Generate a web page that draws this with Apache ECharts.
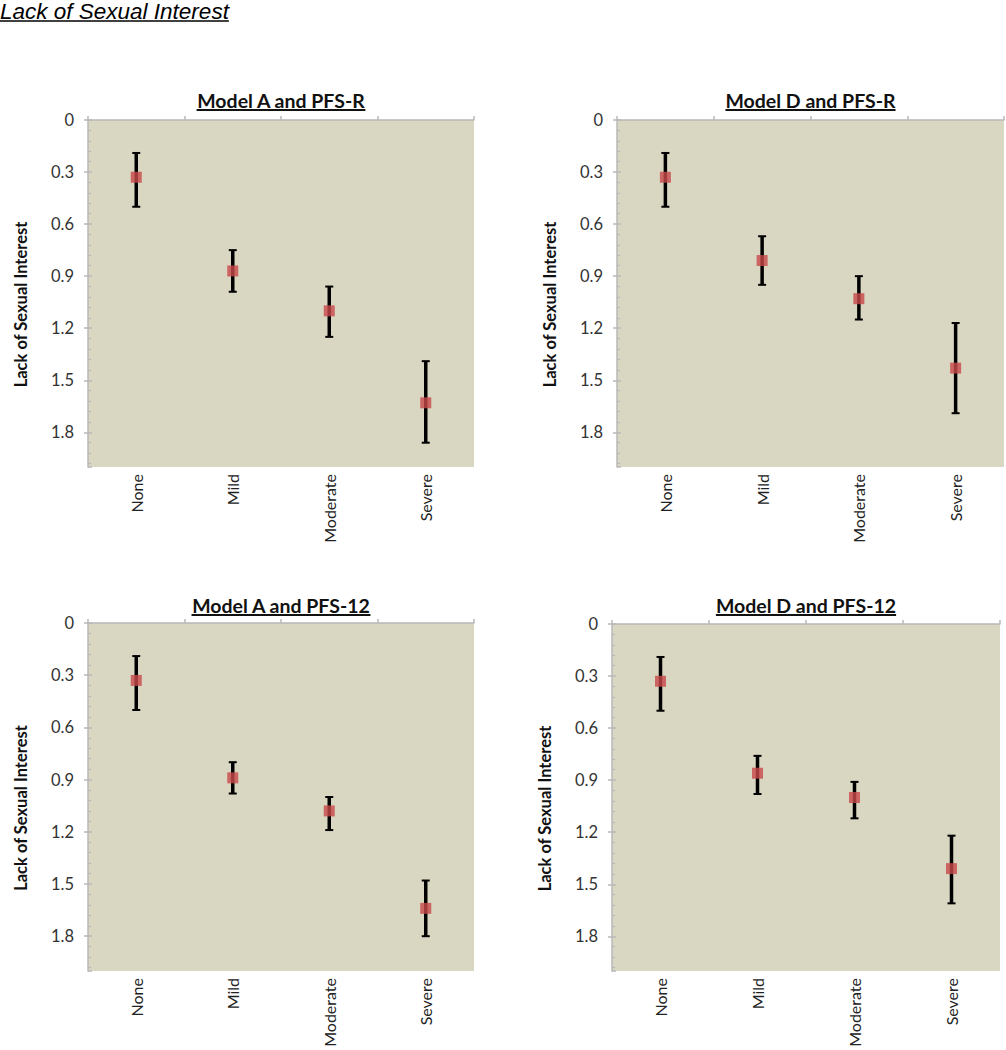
<!DOCTYPE html>
<html>
<head>
<meta charset="utf-8">
<script src="https://cdn.jsdelivr.net/npm/echarts@6/dist/echarts.min.js"></script>
<style>
html,body{margin:0;padding:0;background:#fff;}
#chart{width:1006px;height:1050px;}
</style>
</head>
<body>
<div id="chart"></div>
<script>
// ---- data ----
const pageTitle = 'Lack of Sexual Interest';
const yAxisTitle = 'Lack of Sexual Interest';
const categories = ['None', 'Mild', 'Moderate', 'Severe'];
const panelTitles = ['Model A and PFS-R', 'Model D and PFS-R', 'Model A and PFS-12', 'Model D and PFS-12'];

const aPfsrMean = [0.33, 0.87, 1.10, 1.63];
const aPfsrLow  = [0.19, 0.75, 0.96, 1.39];
const aPfsrHigh = [0.50, 0.99, 1.25, 1.86];

const dPfsrMean = [0.33, 0.81, 1.03, 1.43];
const dPfsrLow  = [0.19, 0.67, 0.90, 1.17];
const dPfsrHigh = [0.50, 0.95, 1.15, 1.69];

const aPfs12Mean = [0.33, 0.89, 1.08, 1.64];
const aPfs12Low  = [0.19, 0.80, 1.00, 1.48];
const aPfs12High = [0.50, 0.98, 1.19, 1.80];

const dPfs12Mean = [0.33, 0.86, 1.00, 1.41];
const dPfs12Low  = [0.19, 0.76, 0.91, 1.22];
const dPfs12High = [0.50, 0.98, 1.12, 1.61];

const yMin = 0, yMax = 2.0, yInterval = 0.3;

// ---- layout / style ----
const panels = [
  {mean: aPfsrMean, low: aPfsrLow, high: aPfsrHigh, grid: {left: 88, top: 120, width: 386, height: 347}, titleY: 100},
  {mean: dPfsrMean, low: dPfsrLow, high: dPfsrHigh, grid: {left: 617, top: 120, width: 387, height: 347}, titleY: 100},
  {mean: aPfs12Mean, low: aPfs12Low, high: aPfs12High, grid: {left: 88, top: 623, width: 386, height: 348}, titleY: 605},
  {mean: dPfs12Mean, low: dPfs12Low, high: dPfs12High, grid: {left: 612, top: 624, width: 388, height: 347}, titleY: 605}
];
const bgColor = '#D9D7C1';
const axisGray = '#B8B8B8';
const markerColor = '#C8494A';
const labelFont = 'Lato';

const measureCtx = document.createElement('canvas').getContext('2d');
function textWidth(txt, font) { measureCtx.font = font; return measureCtx.measureText(txt).width; }

const grids = [], xAxes = [], yAxes = [], series = [], graphics = [];

// page heading
const headFont = 'italic 22.5px "Liberation Sans", Arial, sans-serif';
graphics.push({type: 'text', style: {x: 0, y: 11, text: pageTitle, font: headFont, fill: '#000', textAlign: 'left', textVerticalAlign: 'middle'}});
graphics.push({type: 'line', shape: {x1: 0, y1: 21, x2: textWidth(pageTitle, headFont), y2: 21}, style: {stroke: '#000', lineWidth: 1.5}});

panels.forEach((p, gi) => {
  grids.push(Object.assign({show: true, backgroundColor: bgColor, borderWidth: 0}, p.grid));
  // bottom category axis (labels)
  xAxes.push({
    type: 'category', gridIndex: gi, data: categories, position: 'bottom',
    axisLine: {show: false}, axisTick: {show: false},
    axisLabel: {rotate: 90, margin: 7, color: '#222', fontFamily: labelFont, fontSize: 16}
  });
  // top category axis (line + boundary ticks)
  xAxes.push({
    type: 'category', gridIndex: gi, data: categories, position: 'top',
    axisLine: {show: true, lineStyle: {color: axisGray, width: 1.5}},
    axisTick: {show: true, length: 4, lineStyle: {color: axisGray, width: 1.5}},
    axisLabel: {show: false}
  });
  // main value axis
  yAxes.push({
    type: 'value', gridIndex: gi, min: yMin, max: yMax, interval: yInterval, inverse: true,
    name: yAxisTitle, nameLocation: 'middle', nameGap: 59,
    nameTextStyle: {fontFamily: labelFont, fontWeight: 'bold', fontSize: 16.5, color: '#111', padding: [0, 22, 0, 0]},
    axisLine: {show: true, lineStyle: {color: axisGray, width: 1.5}},
    axisTick: {show: true, length: 4, lineStyle: {color: axisGray, width: 1.5}},
    axisLabel: {showMaxLabel: false, margin: 14, color: '#333', fontFamily: labelFont, fontSize: 16.5},
    splitLine: {show: false}
  });
  // overlay value axis for inside minor ticks
  yAxes.push({
    type: 'value', gridIndex: gi, min: yMin, max: yMax, interval: yInterval, inverse: true, position: 'left',
    axisLine: {show: false},
    axisTick: {show: true, inside: true, length: 4, lineStyle: {color: axisGray, width: 1.5}},
    minorTick: {show: true, splitNumber: 5, length: 3, lineStyle: {color: axisGray, width: 1.2}},
    axisLabel: {show: false}, splitLine: {show: false}
  });
  const xi = gi * 2, yi = gi * 2;
  series.push({
    type: 'custom', xAxisIndex: xi, yAxisIndex: yi, z: 2,
    data: categories.map((c, i) => [i, p.low[i], p.high[i]]),
    encode: {x: 0, y: [1, 2]},
    renderItem: function (params, api) {
      const x = api.value(0);
      const a = api.coord([x, api.value(1)]);
      const b = api.coord([x, api.value(2)]);
      const cw = 4;
      const st = {stroke: '#000', lineWidth: 3.5};
      return {type: 'group', children: [
        {type: 'line', shape: {x1: a[0], y1: a[1], x2: b[0], y2: b[1]}, style: st},
        {type: 'line', shape: {x1: a[0] - cw, y1: a[1], x2: a[0] + cw, y2: a[1]}, style: {stroke: '#000', lineWidth: 2}},
        {type: 'line', shape: {x1: b[0] - cw, y1: b[1], x2: b[0] + cw, y2: b[1]}, style: {stroke: '#000', lineWidth: 2}}
      ]};
    }
  });
  series.push({
    type: 'scatter', xAxisIndex: xi, yAxisIndex: yi, z: 3,
    symbol: 'rect', symbolSize: 11,
    itemStyle: {color: markerColor},
    data: categories.map((c, i) => [i, p.mean[i]])
  });
  // panel title with underline
  const cx = p.grid.left + p.grid.width / 2;
  const tFont = 'bold 19.5px ' + labelFont;
  const tw = textWidth(panelTitles[gi], tFont);
  graphics.push({type: 'text', style: {x: cx, y: p.titleY, text: panelTitles[gi], font: tFont, fill: '#111', textAlign: 'center', textVerticalAlign: 'middle'}});
  graphics.push({type: 'line', shape: {x1: cx - tw / 2, y1: p.titleY + 10, x2: cx + tw / 2, y2: p.titleY + 10}, style: {stroke: '#111', lineWidth: 2}});
});

const chart = echarts.init(document.getElementById('chart'), null, {renderer: 'svg'});
chart.setOption({
  animation: false,
  grid: grids, xAxis: xAxes, yAxis: yAxes, series: series, graphic: graphics
});
</script>
</body>
</html>
